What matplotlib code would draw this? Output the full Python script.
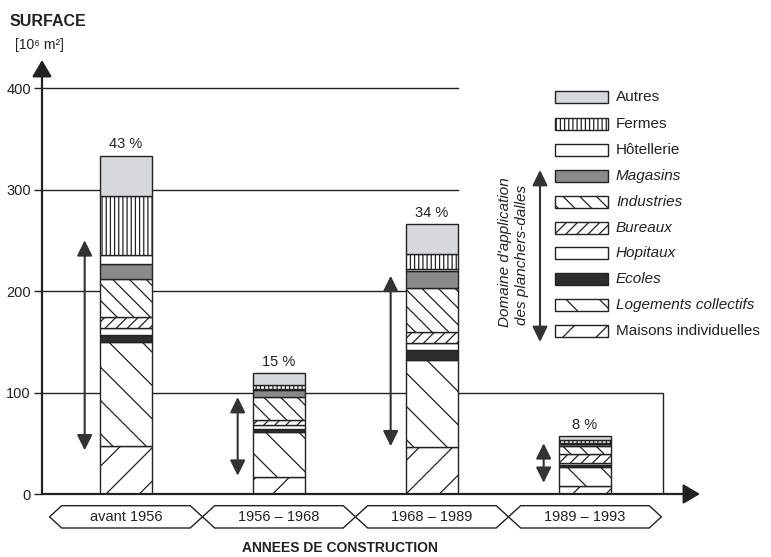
import matplotlib
matplotlib.use('Agg')
import matplotlib.pyplot as plt
from matplotlib.patches import Rectangle, Polygon, FancyArrowPatch

plt.rcParams['font.family'] = ['Liberation Sans', 'DejaVu Sans']
plt.rcParams['hatch.linewidth'] = 0.9

# données (10^6 m2) par période de construction
periodes = ['avant 1956', '1956 – 1968', '1968 – 1989', '1989 – 1993']
pourcent = ['43 %', '15 %', '34 %', '8 %']

maisons = [47, 17, 46, 8]
logements = [103, 44, 86, 19]
ecoles = [6.5, 3.5, 10, 2]
hopitaux = [7, 3.5, 7, 2]
bureaux = [11, 5, 11, 8]
industries = [37, 23, 43, 8]
magasins = [15, 6, 17, 2]
hotellerie = [9, 1.5, 2, 1]
fermes = [58, 4, 14, 3]
autres = [40, 12, 30, 4]

# domaine d'application (flèches)
domaine_bas = [43, 18, 47, 11]
domaine_haut = [250, 95.5, 215, 50]

yticks = [0, 100, 200, 300, 400]

# (label, valeurs, face, hatch, italique) du bas vers le haut
series = [
    ('Maisons individuelles', maisons, 'white', '/', False),
    ('Logements collectifs', logements, 'white', '\\', True),
    ('Ecoles', ecoles, '#2e2e2e', '', True),
    ('Hopitaux', hopitaux, 'white', '', True),
    ('Bureaux', bureaux, 'white', '///', True),
    ('Industries', industries, 'white', '\\\\', True),
    ('Magasins', magasins, '#8a8a8a', '', True),
    ('Hôtellerie', hotellerie, 'white', '', False),
    ('Fermes', fermes, 'white', '||||', False),
    ('Autres', autres, '#d5d8dc', '', False),
]

W, H = 771, 557
fig = plt.figure(figsize=(W / 100, H / 100), dpi=100)
ax = fig.add_axes([42 / W, (H - 494) / H, 658 / W, 434 / H])
x0, x1 = -0.549, 3.752
ymax = 427.6
ax.set_xlim(x0, x1)
ax.set_ylim(0, ymax)
for s in ax.spines.values():
    s.set_visible(False)
ax.set_xticks([])
ax.set_yticks(yticks)
ax.set_yticklabels([str(t) for t in yticks], fontsize=10.5, color='#222')
ax.tick_params(axis='y', length=6, width=1, pad=2, color='#222')

dark = '#222222'
# lignes horizontales
for t in yticks[2:]:
    ax.plot([x0, 2.17], [t, t], color=dark, lw=1, zorder=1)
ax.plot([x0, 3.51, 3.51], [100, 100, 0], color=dark, lw=1, zorder=1)

# barres empilées
xs = list(range(len(periodes)))
bottoms = [0.0] * len(periodes)
for label, vals, fc, hatch, ital in series:
    ax.bar(xs, vals, bottom=bottoms, width=0.34, color=fc, hatch=hatch,
           edgecolor=dark, linewidth=1, zorder=2)
    bottoms = [b + v for b, v in zip(bottoms, vals)]

for i, tot in enumerate(bottoms):
    ax.text(i, tot + 4, pourcent[i], ha='center', va='bottom', fontsize=10.5, color=dark)

arrow_style = '<|-|>,head_length=0.85,head_width=0.42'
# flèches du domaine d'application
for i in xs:
    ax.annotate('', xy=(i - 0.27, domaine_haut[i]), xytext=(i - 0.27, domaine_bas[i]),
                arrowprops=dict(arrowstyle=arrow_style, mutation_scale=11, lw=1.5,
                                color='#333', shrinkA=0, shrinkB=0), zorder=3)

# axes avec flèches
for xy in [(x0, ymax), (x1, 0)]:
    ax.annotate('', xy=xy, xytext=(x0, 0), annotation_clip=False,
                arrowprops=dict(arrowstyle='-|>,head_length=0.85,head_width=0.5',
                                mutation_scale=12, lw=1.6, color=dark,
                                shrinkA=0, shrinkB=0))

# étiquettes des périodes (hexagones)
d = 0.08
ytop, ybot = -11.5, -33.5
ymid = (ytop + ybot) / 2
for i, p in enumerate(periodes):
    b0, b1 = i - 0.5, i + 0.5
    poly = Polygon([(b0, ymid), (b0 + d, ytop), (b1 - d, ytop), (b1, ymid),
                    (b1 - d, ybot), (b0 + d, ybot)], closed=True, fill=False,
                   edgecolor=dark, lw=1, clip_on=False)
    ax.add_patch(poly)
    ax.text(i, ymid, p, ha='center', va='center', fontsize=10.5, color=dark)

fig.text(10 / W, 1 - 22 / H, 'SURFACE', fontsize=11.5, fontweight='bold', va='center', color=dark)
fig.text(15 / W, 1 - 45 / H, '[10⁶ m²]', fontsize=10, va='center', color=dark)
fig.text(340 / W, 1 - 548 / H, 'ANNEES DE CONSTRUCTION', fontsize=10, fontweight='bold',
         ha='center', va='center', color=dark)

# légende
rows = [331, 305, 279, 253, 228, 202, 176, 150, 124, 97]
for (label, vals, fc, hatch, ital), yr in zip(series, rows):
    fig.add_artist(Rectangle((555 / W, 1 - (yr + 6) / H), 53 / W, 12 / H,
                             facecolor=fc, hatch=hatch, edgecolor=dark, lw=1,
                             transform=fig.transFigure))
    fig.text(616 / W, 1 - yr / H, label, fontsize=11, va='center', color=dark,
             style='italic' if ital else 'normal')

fig.add_artist(FancyArrowPatch(
    (540 / W, 1 - 342 / H), (540 / W, 1 - 170 / H), transform=fig.transFigure,
    arrowstyle=arrow_style, mutation_scale=11, lw=1.5, color='#333',
    shrinkA=0, shrinkB=0))
fig.text(505 / W, 1 - 252 / H, "Domaine d'application", rotation=90, fontsize=11,
         style='italic', ha='center', va='center', color=dark)
fig.text(522 / W, 1 - 255 / H, 'des planchers-dalles', rotation=90, fontsize=11,
         style='italic', ha='center', va='center', color=dark)

fig.savefig('out.png', dpi=100, facecolor='white')
